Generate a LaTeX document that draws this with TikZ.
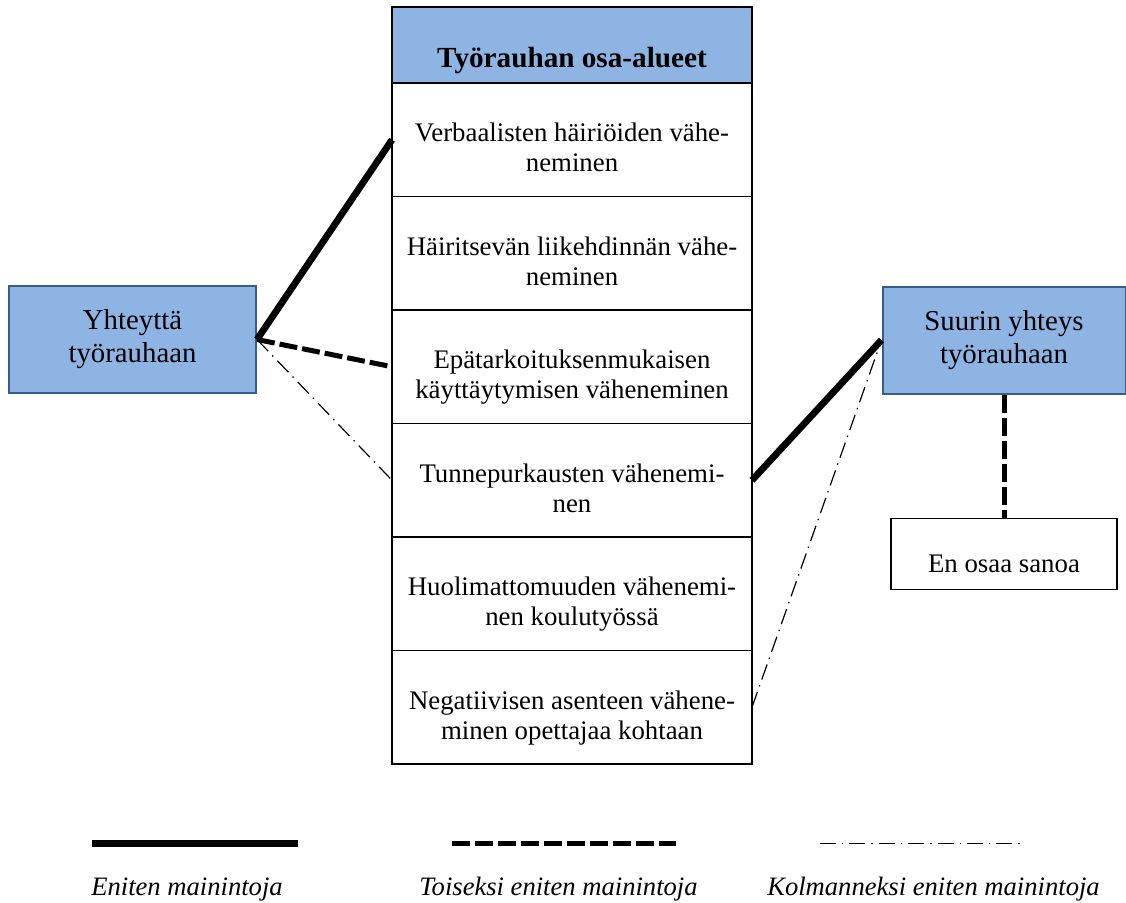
\documentclass[tikz,border=0pt]{standalone}
\usepackage{fontspec}
\setmainfont{Liberation Serif}
\usetikzlibrary{positioning}
\definecolor{boxblue}{RGB}{142,180,227}
\definecolor{boxline}{RGB}{56,93,138}
\tikzstyle{cell}=[draw,line width=0.9pt,minimum width=180pt,minimum height=56.75pt,outer sep=0pt,inner ysep=0pt,align=center,text height=31.85pt,text depth=0pt,font=\fontsize{13.4}{15}\selectfont]
\tikzstyle{head}=[cell,fill=boxblue,minimum height=38pt,text height=30pt,text depth=8pt,font=\fontsize{14.6}{16}\selectfont\bfseries]
\tikzstyle{group}=[draw=boxline,fill=boxblue,line width=1pt,minimum height=53.5pt,align=center,font=\fontsize{14.4}{16.5}\selectfont]
\tikzstyle{answer}=[draw,line width=0.9pt,minimum width=113pt,minimum height=35.5pt,inner ysep=0pt,text height=26.85pt,text depth=8.65pt,font=\fontsize{13.4}{15}\selectfont]
\tikzstyle{most}=[line width=3.4pt]
\tikzstyle{second}=[line width=2.5pt,dash pattern=on 9pt off 2.5pt]
\tikzstyle{third}=[line width=0.6pt,dash pattern=on 8pt off 3pt on 0.7pt off 3pt]
\tikzstyle{legend}=[anchor=base,font=\fontsize{13.3}{15}\selectfont\itshape]

\begin{document}
\begin{tikzpicture}[x=0.5pt,y=-0.5pt]
    \useasboundingbox (0,0) rectangle (1126,902);

    % taulukko
    \node[head] (head) at (572,45) {Työrauhan osa-alueet};
    \node[cell, below=0pt of head] (verb) {Verbaalisten häiriöiden vähe-\\neminen};
    \node[cell, below=0pt of verb] (liike) {Häiritsevän liikehdinnän vähe-\\neminen};
    \node[cell, below=0pt of liike] (epat) {Epätarkoituksenmukaisen\\käyttäytymisen väheneminen};
    \node[cell, below=0pt of epat] (tunne) {Tunnepurkausten vähenemi-\\nen};
    \node[cell, below=0pt of tunne] (huol) {Huolimattomuuden vähenemi-\\nen koulutyössä};
    \node[cell, below=0pt of huol] (neg) {Negatiivisen asenteen vähene-\\minen opettajaa kohtaan};

    % yhteydet
    \node[group, minimum width=123.5pt] (yht) at (132.5,339.5) {Yhteyttä\\työrauhaan};
    \node[group, minimum width=121.5pt] (suurin) at (1004,340) {Suurin yhteys\\työrauhaan};
    \node[answer, below=61.5pt of suurin] (eos) {En osaa sanoa};

    \draw[most] (yht.east) -- (verb.west);
    \draw[second] (yht.east) -- (epat.west);
    \draw[third] (yht.east) -- (tunne.west);
    \draw[most] (tunne.east) -- (suurin.west);
    \draw[third] (neg.east) -- (suurin.west);
    \draw[second] (suurin.south) -- (eos.north);

    % selite
    \coordinate (m1) at (92,843.5);
    \coordinate (m2) at (298,843.5);
    \coordinate (s1) at (452,843.5);
    \coordinate (s2) at (676,843.5);
    \coordinate (k1) at (820,843.5);
    \coordinate (k2) at (1025,843.5);
    \draw[most] (m1) -- (m2);
    \draw[second] (s1) -- (s2);
    \draw[third] (k1) -- (k2);
    \node[legend] (lm) at (187,895) {Eniten mainintoja};
    \node[legend] (ls) at (558.5,895) {Toiseksi eniten mainintoja};
    \node[legend] (lk) at (933.5,895) {Kolmanneksi eniten mainintoja};
\end{tikzpicture}
\end{document}
